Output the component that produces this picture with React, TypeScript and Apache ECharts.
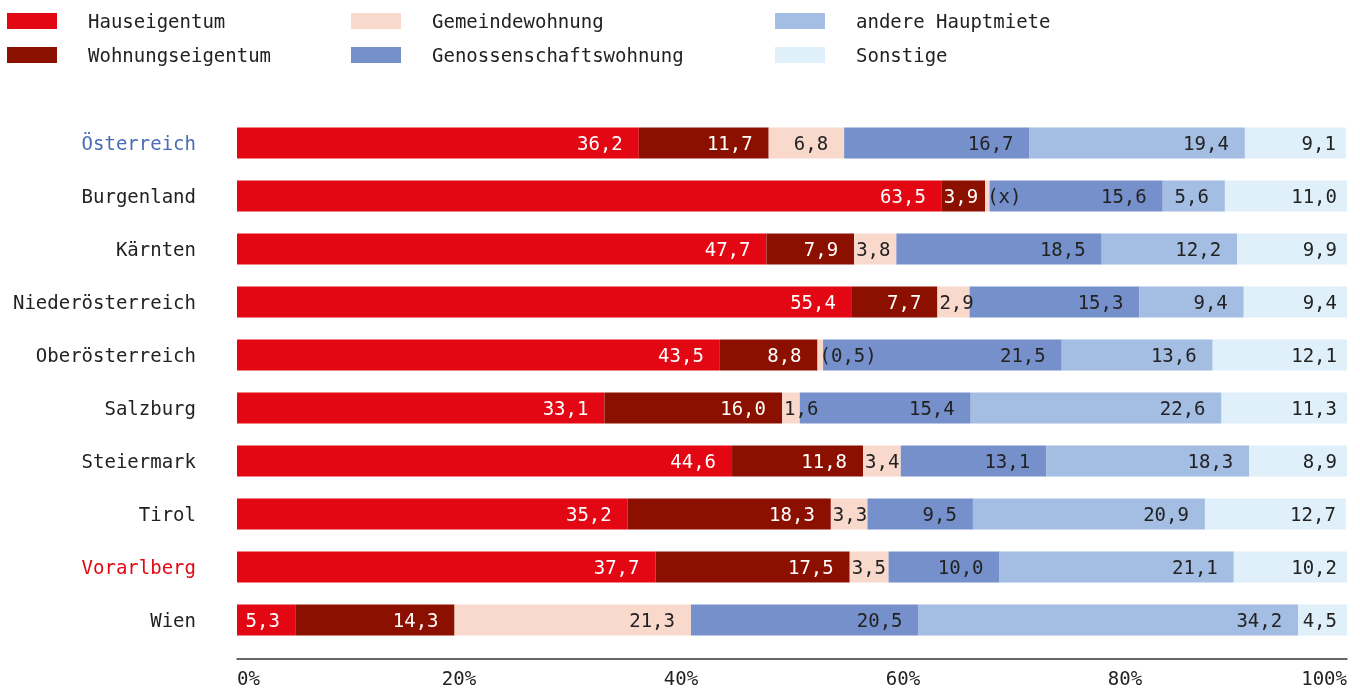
import React, { useEffect, useRef } from "react";
import * as echarts from "echarts";

const categories = ["Österreich", "Burgenland", "Kärnten", "Niederösterreich", "Oberösterreich", "Salzburg", "Steiermark", "Tirol", "Vorarlberg", "Wien"];
const seriesNames = ["Hauseigentum", "Wohnungseigentum", "Gemeindewohnung", "Genossenschaftswohnung", "andere Hauptmiete", "Sonstige"];
const hauseigentum = [36.2, 63.5, 47.7, 55.4, 43.5, 33.1, 44.6, 35.2, 37.7, 5.3];
const wohnungseigentum = [11.7, 3.9, 7.9, 7.7, 8.8, 16.0, 11.8, 18.3, 17.5, 14.3];
const gemeindewohnung = [6.8, 0.4, 3.8, 2.9, 0.5, 1.6, 3.4, 3.3, 3.5, 21.3];
const genossenschaft = [16.7, 15.6, 18.5, 15.3, 21.5, 15.4, 13.1, 9.5, 10.0, 20.5];
const andereHauptmiete = [19.4, 5.6, 12.2, 9.4, 13.6, 22.6, 18.3, 20.9, 21.1, 34.2];
const sonstige = [9.1, 11.0, 9.9, 9.4, 12.1, 11.3, 8.9, 12.7, 10.2, 4.5];
// special label texts (unreliable / suppressed values)
const gemeindeLabels = ["6,8", "(x)", "3,8", "2,9", "(0,5)", "1,6", "3,4", "3,3", "3,5", "21,3"];
const xTicks = ["0%", "20%", "40%", "60%", "80%", "100%"];

const colors = ["#e30613", "#8b1000", "#f9d9cc", "#7590cb", "#a3bde3", "#dff0fb"];
const labelColors = ["#ffffff", "#ffffff", "#222222", "#222222", "#222222", "#222222"];
const FONT = "'DejaVu Sans Mono', monospace";

const fmt = (v: number) => v.toFixed(1).replace(".", ",");

export default function App() {
  const ref = useRef<HTMLDivElement>(null);
  useEffect(() => {
    if (!ref.current) return;
    const chart = echarts.init(ref.current, undefined, { renderer: "svg" });
    const allData = [hauseigentum, wohnungseigentum, gemeindewohnung, genossenschaft, andereHauptmiete, sonstige];
    const series = allData.map((arr, si) => ({
      name: seriesNames[si],
      type: "bar",
      stack: "total",
      barWidth: 31,
      itemStyle: { color: colors[si] },
      data: arr.map((v, i) => {
        const small = v < 4.5;
        return {
          value: v,
          label: {
            position: small ? "insideLeft" : "insideRight",
            distance: small ? 2 : si === 5 ? 10 : 16,
          },
        };
      }),
      label: {
        show: true,
        color: labelColors[si],
        fontFamily: FONT,
        fontSize: 19,
        formatter: (p: any) => (si === 2 ? gemeindeLabels[p.dataIndex] : fmt(p.value)),
      },
    }));
    const legendText = { fontFamily: FONT, fontSize: 19, color: "#222", lineHeight: 20, padding: [0, 0, 0, 26] };
    const legendCommon = {
      orient: "vertical",
      itemWidth: 50,
      itemHeight: 16,
      itemGap: 14,
      icon: "rect",
      top: 11,
      padding: 0,
      textStyle: legendText,
      selectedMode: false,
    };
    chart.setOption({
      animation: false,
      legend: [
        { ...legendCommon, left: 7, data: [seriesNames[0], seriesNames[1]] },
        { ...legendCommon, left: 351, data: [seriesNames[2], seriesNames[3]] },
        { ...legendCommon, left: 775, data: [seriesNames[4], seriesNames[5]] },
      ],
      grid: { left: 237, right: 13, top: 116.5, bottom: 41.5, containLabel: false },
      xAxis: {
        type: "value",
        min: 0,
        max: 100,
        interval: 20,
        offset: 12.5,
        splitLine: { show: false },
        axisLine: { show: true, lineStyle: { color: "#333", width: 1.5 } },
        axisTick: { show: false },
        axisLabel: {
          fontFamily: FONT,
          fontSize: 19,
          color: "#222",
          margin: 9,
          alignMinLabel: "left",
          alignMaxLabel: "right",
          formatter: (v: number) => xTicks[Math.round(v / 20)],
        },
      },
      yAxis: {
        type: "category",
        inverse: true,
        data: categories,
        axisLine: { show: false },
        axisTick: { show: false },
        axisLabel: {
          fontFamily: FONT,
          fontSize: 19,
          margin: 41,
          color: (v: string) => (v === "Österreich" ? "#4a6bb5" : v === "Vorarlberg" ? "#e30613" : "#222"),
        },
      },
      series,
    });
    return () => chart.dispose();
  }, []);
  return <div ref={ref} style={{ position: "fixed", left: 0, top: 0, width: 1360, height: 688 }} />;
}
